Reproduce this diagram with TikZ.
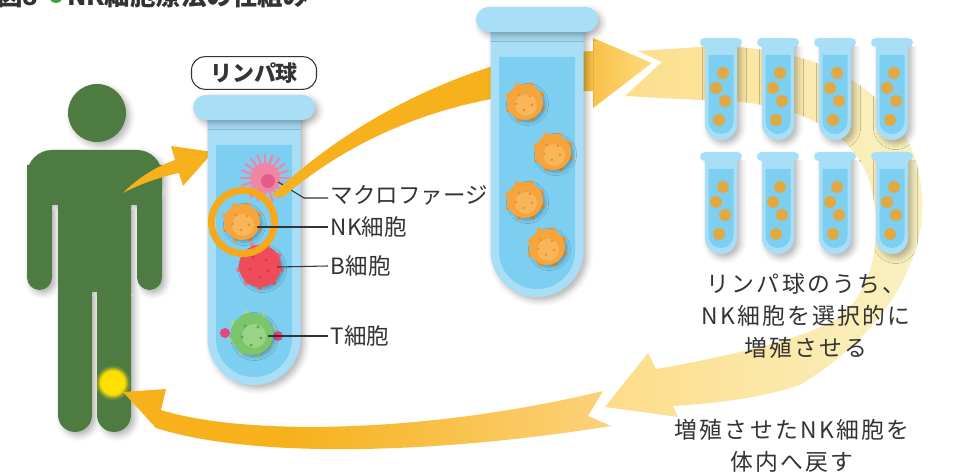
\documentclass[tikz,border=0pt]{standalone}
\usepackage{fontspec}
\setmainfont{Noto Sans CJK JP}
\usetikzlibrary{calc,shadows.blur}

\definecolor{inkGray}{HTML}{333333}
\definecolor{figGreen}{HTML}{4E7B42}
\definecolor{titleGreen}{HTML}{3DA33A}
\definecolor{glowYellow}{HTML}{FFE000}
\definecolor{arrowOr}{HTML}{F6B11C}
\definecolor{ringOr}{HTML}{F6A91B}
\definecolor{fadeMid}{HTML}{FBCD6C}
\definecolor{fadeEnd}{HTML}{FEF2DE}
\definecolor{headOr}{HTML}{F5AF20}
\definecolor{headYel}{HTML}{FDDB7E}
\definecolor{arcL}{HTML}{FDDC88}
\definecolor{arcR}{HTML}{F9F2C4}
\definecolor{tubeOut}{HTML}{A9DEF7}
\definecolor{tubeIn}{HTML}{7DCFF2}
\definecolor{goldDot}{HTML}{E0A943}
\definecolor{nkBody}{HTML}{F5A53C}
\definecolor{nkLight}{HTML}{F8B65A}
\definecolor{nkDot}{HTML}{EC9030}
\definecolor{macPink}{HTML}{EF86A5}
\definecolor{macCore}{HTML}{E65A88}
\definecolor{bRed}{HTML}{EF4B5B}
\definecolor{bLight}{HTML}{F47C88}
\definecolor{bDark}{HTML}{D9384A}
\definecolor{tGreen}{HTML}{7DC56B}
\definecolor{tLight}{HTML}{A6DA93}
\definecolor{tDark}{HTML}{53A847}
\definecolor{tPink}{HTML}{E6467C}

\pgfdeclarehorizontalshading{returnfade}{100bp}{color(0bp)=(arrowOr); color(42bp)=(arrowOr); color(70bp)=(fadeMid); color(100bp)=(fadeEnd)}

\tikzset{
  pics/bigtube/.style={code={
    \fill[tubeOut, tubeshadow, rounded corners=0.925cm] (-46.5,18) -- (-46.5,290) -- (46.5,290) -- (46.5,18);
    \fill[tubeOut, tubeshadow, rounded corners=0.25cm] (-61,0) rectangle (61,25);
    \fill[tubeIn, rounded corners=0.755cm] (-38,50) -- (-38,282) -- (38,282) -- (38,50);
  }},
  pics/smalltube/.style={code={
    \fill[tubeOut, tubeshadow, rounded corners=0.318cm] (-16,5) -- (-16,102) -- (16,102) -- (16,5);
    \fill[tubeOut, rounded corners=0.09cm] (-21,0) rectangle (21,9);
    \fill[tubeIn, rounded corners=0.248cm] (-12.5,17) -- (-12.5,96) -- (12.5,96) -- (12.5,17);
    \foreach \dx/\dy in {2/35,-5/50,4/63,-2/82}
      \fill[goldDot] (\dx,\dy) circle (6);
  }},
  pics/nkcell/.style={code={
    \foreach \a in {20,65,...,335}
      \fill[nkBody] (\a:19) circle (2.2);
    \fill[nkBody, cellshadow] (0,0) circle (18);
    \fill[nkLight] (1,3) circle (11);
    \foreach \dx/\dy in {-6/-7,5/-6,-9/2,7/3,-1/8}
      \fill[nkDot] (\dx,\dy) circle (1.5);
  }},
}

\begin{document}
\begin{tikzpicture}[x=0.02cm, y=-0.02cm,
    tubeshadow/.style={blur shadow={shadow xshift=0.07cm, shadow yshift=-0.07cm, shadow blur radius=0.12cm, shadow opacity=30}},
    cellshadow/.style={blur shadow={shadow xshift=0.05cm, shadow yshift=-0.05cm, shadow blur radius=0.06cm, shadow opacity=25}},
    headline/.style={text=inkGray, inner sep=0pt, font=\bfseries\fontsize{14.5}{17}\selectfont},
    tagtext/.style={text=inkGray, anchor=west, inner sep=1.5pt, font=\fontsize{12.8}{15}\selectfont},
    notetext/.style={text=inkGray, align=center, font=\addfontfeature{LetterSpace=10}\fontsize{13}{18.4}\selectfont},
    leader/.style={draw=inkGray, line width=0.6pt}]
  \useasboundingbox (0,0) rectangle (954,475);
  \clip (0,0) rectangle (954,475);

  % heading, cut at the top edge
  \node[headline, anchor=base west] (figNo) at (-3,6) {図8};
  \fill[titleGreen] (56,-4) circle (7);
  \node[headline, anchor=base west] (figTitle) at (67,6) {NK細胞療法の仕組み};

  % pale culture arc behind the small tubes
  \shade[left color=arcL, right color=arcR] (638,51) -- (700,47)
    .. controls (830,42) and (915,100) .. (922,195)
    .. controls (927,255) and (890,330) .. (800,385)
    .. controls (760,398) and (720,403) .. (673,406)
    -- (678,417) -- (605,407) -- (648,353) -- (656,369)
    .. controls (720,358) and (800,340) .. (835,320)
    .. controls (880,290) and (885,215) .. (865,170)
    .. controls (840,120) and (780,100) .. (700,100)
    -- (625,96) -- (662,62) -- cycle;

  % person: every part runs the same way round so the fill is one shape
  \fill[figGreen, tubeshadow] (97,113) circle (29)
    [rounded corners=0.5cm] (27,150) -- (27,205) -- (162,205) -- (162,150) -- cycle
    [rounded corners=0.25cm] (27,165) -- (27,290) -- (52,290) -- (52,165)
    (137,165) -- (137,290) -- (162,290) -- (162,165)
    [sharp corners] (58,180) -- (58,292) -- (131,292) -- (131,180) -- cycle
    [rounded corners=0.34cm] (58,280) -- (58,432) -- (92,432) -- (92,280)
    (97,280) -- (97,432) -- (131,432) -- (131,280);
  % injection point
  \foreach \rad/\op in {17/0.2,15/0.4,13.5/0.7,12/1}
    \fill[glowYellow, opacity=\op] (113,383) circle (\rad);

  % back into the body
  \shade[shading=returnfade] (123,392) -- (166,389) -- (161,410)
    .. controls (240,435) and (420,435) .. (603,391)
    -- (588,416) -- (611,426)
    .. controls (430,455) and (250,458) .. (156,428) -- cycle;

  % blood sample taken
  \fill[arrowOr] (123,193) .. controls (140,176) and (158,166) .. (175,160)
    -- (171,146) -- (213,152) -- (183,186) -- (179,173)
    .. controls (160,177) and (140,184) .. (123,193) -- cycle;

  % lymphocyte tube
  \node[draw=inkGray, line width=0.6pt, fill=white, rounded corners=0.27cm,
        minimum width=2.5cm, minimum height=0.54cm, text=inkGray,
        font=\bfseries\fontsize{12.5}{14}\selectfont] (lymphTag) at (254,73) {リンパ球};
  \pic at (254,95) {bigtube};

  % macrophage
  \begin{scope}[shift={(265,178)}]
    \foreach \a in {0,18,...,342}
      \draw[macPink, line width=1.3pt, line cap=round] (0,0) -- (\a:24);
    \fill[macPink] (0,0) circle (15);
    \fill[macCore] (3,3) circle (7);
  \end{scope}
  % NK cell
  \pic at (242,222) {nkcell};
  % B cell
  \begin{scope}[shift={(260,266)}]
    \foreach \a in {10,50,...,370}
      \fill[bLight] (\a:22) circle (2.4);
    \fill[bRed, cellshadow] (0,0) circle (21);
    \foreach \dx/\dy in {-7/-9,6/-6,-10/3,8/5,0/11}
      \fill[bDark] (\dx,\dy) circle (1.6);
  \end{scope}
  % T cell
  \fill[tPink] (225,333) circle (5);
  \fill[tPink] (278,336) circle (5);
  \begin{scope}[shift={(252,334)}]
    \foreach \a in {30,75,...,345}
      \fill[tLight] (\a:22) circle (2.4);
    \fill[tGreen, cellshadow] (0,0) circle (21);
    \fill[tLight!70!tGreen] (2,2) circle (12);
    \foreach \dx/\dy in {-7/-8,6/-7,-10/3,9/4,-1/11}
      \fill[tDark] (\dx,\dy) circle (1.6);
  \end{scope}

  \draw[ringOr, line width=0.14cm] (243,222) circle (31.5);

  % names of the cells
  \coordinate (macC) at (278,182);
  \coordinate (nkC) at (257,227);
  \coordinate (bC) at (277,267);
  \coordinate (tC) at (268,336);
  \node[tagtext] (macTag) at (328,195) {マクロファージ};
  \node[tagtext] (nkTag) at (328,227) {NK細胞};
  \node[tagtext] (bTag) at (328,266) {B細胞};
  \node[tagtext] (tTag) at (328,336) {T細胞};
  \draw[leader] (macC) -- ($(macTag.west)+(-24,3)$) -- ($(macTag.west)+(0,3)$);
  \draw[leader] (nkC) -- (nkTag.west);
  \draw[leader] (bC) -- (bTag.west);
  \draw[leader] (tC) -- (tTag.west);

  % NK cells picked out
  \fill[arrowOr] (271,196) .. controls (330,140) and (420,80) .. (545,52)
    -- (545,92) .. controls (440,100) and (350,140) .. (283,197) -- cycle;
  \shade[left color=headOr, right color=headYel] (550,53) -- (593,51) -- (593,38)
    -- (652,63) -- (593,108) -- (593,91) -- (550,92) -- cycle;
  \pic at (537,7) {bigtube};
  \foreach \cx/\cy in {525/102,553/152,525/200,547/247}
    \pic at (\cx,\cy) {nkcell};

  % expanded culture
  \foreach \tx in {721,778,835,892}
    \foreach \ty in {38,152}
      \pic at (\tx,\ty) {smalltube};

  \node[notetext] (growText) at (806,316) {リンパ球のうち、\\NK細胞を選択的に\\増殖させる};
  \node[notetext] (returnText) at (792,446) {増殖させたNK細胞を\\体内へ戻す};
\end{tikzpicture}
\end{document}
